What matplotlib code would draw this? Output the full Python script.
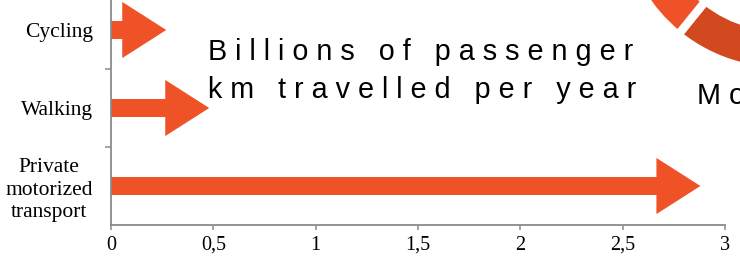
import matplotlib
matplotlib.use("Agg")
from matplotlib import pyplot as plt
from matplotlib.ticker import FuncFormatter

# data
modes = ['Cycling', 'Walking', 'Private\nmotorized\ntransport']
pkm = [0.27, 0.48, 2.88]          # billions of passenger km per year
x_ticks = [0, 0.5, 1, 1.5, 2, 2.5, 3]
donut_shares = [55, 45]           # only a corner of this ring is visible

orange = '#F05228'
dark_orange = '#D3491F'
grey = '#8a8a8a'

fig = plt.figure(figsize=(7.4, 2.58), dpi=100)

# main arrow chart
ax = fig.add_axes([0.15, 0.1279, 0.8297, 0.907])
for i, v in enumerate(pkm):
    ax.arrow(0, i, v, 0, width=0.23, head_width=0.72, head_length=0.215,
             length_includes_head=True, color=orange, lw=0)

ax.set_xlim(0, 3)
ax.set_ylim(2.5, -0.5)
ax.set_xticks(x_ticks)
ax.xaxis.set_major_formatter(FuncFormatter(lambda v, p: ('%g' % v).replace('.', ',')))
ax.set_yticks(range(len(modes)))
ax.set_yticklabels(modes)
ax.set_yticks([0.5, 1.5], minor=True)
for lab in ax.get_yticklabels():
    lab.set_multialignment('center')
    lab.set_linespacing(1.25)
    lab.set_fontfamily('Liberation Serif')
    lab.set_fontsize(15.5)
for lab in ax.get_xticklabels():
    lab.set_fontfamily('Liberation Serif')
    lab.set_fontsize(14.5)

ax.tick_params(axis='y', which='major', length=0, pad=13)
ax.tick_params(axis='y', which='minor', length=4.3, width=1.1, color=grey)
ax.tick_params(axis='x', length=3.6, width=1.1, color=grey, pad=4.2)
for s in ['top', 'right']:
    ax.spines[s].set_visible(False)
for s in ['left', 'bottom']:
    ax.spines[s].set_color(grey)
    ax.spines[s].set_linewidth(1.3)

# spaced-out caption
def spaced(s):
    return '   '.join(' '.join(w) for w in s.split())

fig.text(208 / 740, 1 - 60 / 258, spaced('Billions of passenger'),
         family='Liberation Sans', fontsize=20.7, va='baseline')
fig.text(208 / 740, 1 - 98 / 258, spaced('km travelled per year'),
         family='Liberation Sans', fontsize=20.7, va='baseline')
fig.text(697 / 740, 1 - 104 / 258, spaced('Mo'),
         family='Liberation Sans', fontsize=20.7, va='baseline')

# donut in the top right corner (mostly outside the picture)
r_px = 162
cx, cy = 780, 258 + 91
pax = fig.add_axes([(cx - r_px) / 740, (cy - r_px) / 258, 2 * r_px / 740, 2 * r_px / 258])
pax.pie(donut_shares, colors=[dark_orange, orange], startangle=231, counterclock=True,
        wedgeprops=dict(width=0.27, edgecolor='white', linewidth=6))
pax.set_xlim(-1, 1)
pax.set_ylim(-1, 1)
pax.set_aspect('auto')

fig.savefig('out.png', dpi=100)
